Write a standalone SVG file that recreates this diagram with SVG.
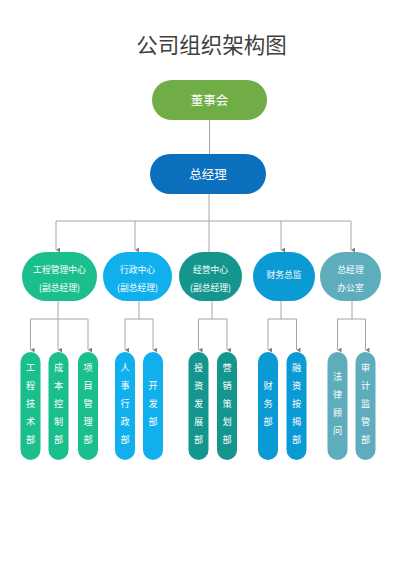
<svg xmlns="http://www.w3.org/2000/svg" width="400" height="565" viewBox="0 0 400 565">
<style>
text{font-family:"Noto Sans CJK SC","Noto Sans",sans-serif;fill:#fff;text-anchor:middle}
.title{fill:#404040;font-size:21.5px}
.main{font-size:12.5px}
.mid{font-size:8.8px}
.leaf{font-size:9.2px}
.ln{fill:none;stroke:#a6a6a6;stroke-width:1}
.c1{fill:#1bbf8d}.c2{fill:#10b0ee}.c3{fill:#14968f}.c4{fill:#0a9ad4}.c5{fill:#5eadbd}
</style>
<defs>
<marker id="arr" markerUnits="userSpaceOnUse" markerWidth="5" markerHeight="4" refX="2.5" refY="4" orient="auto" viewBox="0 0 5 4">
<path d="M0,0 L5,0 L2.5,4 Z" fill="#808080"/>
</marker>
</defs>
<rect width="400" height="565" fill="#fff"/>
<text class="title" x="211.5" y="53">公司组织架构图</text>

<g id="connectors">
<path class="ln" d="M209.5,120 V154"/>
<path class="ln" d="M209,194 V252"/>
<path class="ln" d="M56,221 H351"/>
<path class="ln" d="M56,221 V250" marker-end="url(#arr)"/>
<path class="ln" d="M135,221 V250" marker-end="url(#arr)"/>
<path class="ln" d="M281,221 V250" marker-end="url(#arr)"/>
<path class="ln" d="M351,221 V250" marker-end="url(#arr)"/>

<path class="ln" d="M58,301 V319"/>
<path class="ln" d="M30.5,319 H88"/>
<path class="ln" d="M30.5,319 V350" marker-end="url(#arr)"/>
<path class="ln" d="M58,319 V350" marker-end="url(#arr)"/>
<path class="ln" d="M88,319 V350" marker-end="url(#arr)"/>

<path class="ln" d="M139,301 V319"/>
<path class="ln" d="M125,319 H153"/>
<path class="ln" d="M125,319 V350" marker-end="url(#arr)"/>
<path class="ln" d="M153,319 V350" marker-end="url(#arr)"/>

<path class="ln" d="M212,301 V319"/>
<path class="ln" d="M198.5,319 H227"/>
<path class="ln" d="M198.5,319 V350" marker-end="url(#arr)"/>
<path class="ln" d="M227,319 V350" marker-end="url(#arr)"/>

<path class="ln" d="M281,301 V319"/>
<path class="ln" d="M268,319 H296.5"/>
<path class="ln" d="M268,319 V350" marker-end="url(#arr)"/>
<path class="ln" d="M296.5,319 V350" marker-end="url(#arr)"/>

<path class="ln" d="M352,301 V319"/>
<path class="ln" d="M337.5,319 H365.5"/>
<path class="ln" d="M337.5,319 V350" marker-end="url(#arr)"/>
<path class="ln" d="M365.5,319 V350" marker-end="url(#arr)"/>
</g>

<g id="board">
<rect x="152" y="80" width="115" height="40" rx="20" fill="#70ad47"/>
<text class="main" x="209.5" y="104.5">董事会</text>
</g>
<g id="gm">
<rect x="150" y="154" width="116" height="40" rx="20" fill="#0a6fbd"/>
<text class="main" x="208" y="178.5">总经理</text>
</g>

<g id="n1">
<rect class="c1" x="22" y="252" width="75" height="49" rx="24.5"/>
<text class="mid" x="59.5" y="273.2">工程管理中心</text>
<text class="mid" x="59.5" y="291.2">(副总经理)</text>
</g>
<g id="n2">
<rect class="c2" x="103" y="252" width="69" height="49" rx="24.5"/>
<text class="mid" x="137.5" y="273.2">行政中心</text>
<text class="mid" x="137.5" y="291.2">(副总经理)</text>
</g>
<g id="n3">
<rect class="c3" x="179" y="252" width="63" height="49" rx="24.5"/>
<text class="mid" x="210.5" y="273.2">经营中心</text>
<text class="mid" x="210.5" y="291.2">(副总经理)</text>
</g>
<g id="n4">
<rect class="c4" x="253" y="252" width="62" height="49" rx="24.5"/>
<text class="mid" x="284" y="278.2">财务总监</text>
</g>
<g id="n5">
<rect class="c5" x="320" y="252" width="61" height="49" rx="24.5"/>
<text class="mid" x="350.5" y="273.2">总经理</text>
<text class="mid" x="350.5" y="291.2">办公室</text>
</g>

<g id="p1">
<rect class="c1" x="20.5" y="352" width="20" height="108" rx="10"/>
<text class="leaf" x="30.5"><tspan x="30.5" y="371.3">工</tspan><tspan x="30.5" y="389.3">程</tspan><tspan x="30.5" y="407.3">技</tspan><tspan x="30.5" y="425.3">术</tspan><tspan x="30.5" y="443.3">部</tspan></text>
</g>
<g id="p2">
<rect class="c1" x="48.5" y="352" width="20" height="108" rx="10"/>
<text class="leaf" x="58.5"><tspan x="58.5" y="371.3">成</tspan><tspan x="58.5" y="389.3">本</tspan><tspan x="58.5" y="407.3">控</tspan><tspan x="58.5" y="425.3">制</tspan><tspan x="58.5" y="443.3">部</tspan></text>
</g>
<g id="p3">
<rect class="c1" x="78" y="352" width="20" height="108" rx="10"/>
<text class="leaf" x="88"><tspan x="88" y="371.3">项</tspan><tspan x="88" y="389.3">目</tspan><tspan x="88" y="407.3">管</tspan><tspan x="88" y="425.3">理</tspan><tspan x="88" y="443.3">部</tspan></text>
</g>
<g id="p4">
<rect class="c2" x="115" y="352" width="20" height="108" rx="10"/>
<text class="leaf" x="125"><tspan x="125" y="371.3">人</tspan><tspan x="125" y="389.3">事</tspan><tspan x="125" y="407.3">行</tspan><tspan x="125" y="425.3">政</tspan><tspan x="125" y="443.3">部</tspan></text>
</g>
<g id="p5">
<rect class="c2" x="143" y="352" width="20" height="108" rx="10"/>
<text class="leaf" x="153"><tspan x="153" y="389.3">开</tspan><tspan x="153" y="407.3">发</tspan><tspan x="153" y="425.3">部</tspan></text>
</g>
<g id="p6">
<rect class="c3" x="188.5" y="352" width="20" height="108" rx="10"/>
<text class="leaf" x="198.5"><tspan x="198.5" y="371.3">投</tspan><tspan x="198.5" y="389.3">资</tspan><tspan x="198.5" y="407.3">发</tspan><tspan x="198.5" y="425.3">展</tspan><tspan x="198.5" y="443.3">部</tspan></text>
</g>
<g id="p7">
<rect class="c3" x="217" y="352" width="20" height="108" rx="10"/>
<text class="leaf" x="227"><tspan x="227" y="371.3">营</tspan><tspan x="227" y="389.3">销</tspan><tspan x="227" y="407.3">策</tspan><tspan x="227" y="425.3">划</tspan><tspan x="227" y="443.3">部</tspan></text>
</g>
<g id="p8">
<rect class="c4" x="258" y="352" width="20" height="108" rx="10"/>
<text class="leaf" x="268"><tspan x="268" y="389.3">财</tspan><tspan x="268" y="407.3">务</tspan><tspan x="268" y="425.3">部</tspan></text>
</g>
<g id="p9">
<rect class="c4" x="286.5" y="352" width="20" height="108" rx="10"/>
<text class="leaf" x="296.5"><tspan x="296.5" y="371.3">融</tspan><tspan x="296.5" y="389.3">资</tspan><tspan x="296.5" y="407.3">按</tspan><tspan x="296.5" y="425.3">揭</tspan><tspan x="296.5" y="443.3">部</tspan></text>
</g>
<g id="p10">
<rect class="c5" x="327.5" y="352" width="20" height="108" rx="10"/>
<text class="leaf" x="337.5"><tspan x="337.5" y="380.3">法</tspan><tspan x="337.5" y="398.3">律</tspan><tspan x="337.5" y="416.3">顾</tspan><tspan x="337.5" y="434.3">问</tspan></text>
</g>
<g id="p11">
<rect class="c5" x="355.5" y="352" width="20" height="108" rx="10"/>
<text class="leaf" x="365.5"><tspan x="365.5" y="371.3">审</tspan><tspan x="365.5" y="389.3">计</tspan><tspan x="365.5" y="407.3">监</tspan><tspan x="365.5" y="425.3">管</tspan><tspan x="365.5" y="443.3">部</tspan></text>
</g>
</svg>
